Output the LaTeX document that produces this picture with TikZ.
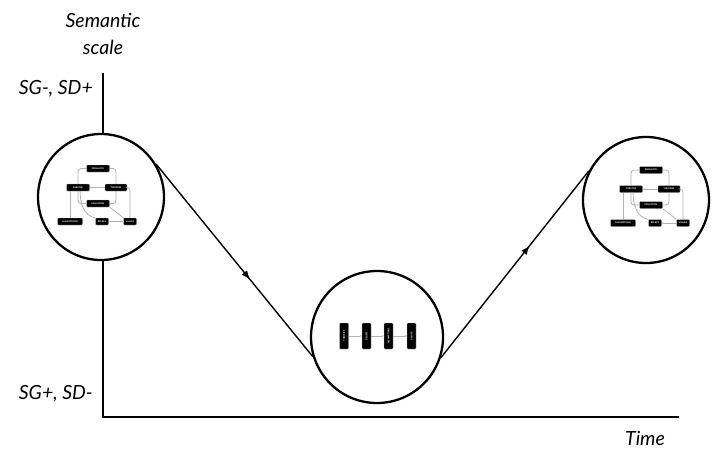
\documentclass[tikz,border=0pt]{standalone}
\usepackage{fontspec}
\setmainfont{Lato}
\usetikzlibrary{arrows.meta,decorations.markings}
\tikzset{
  axisline/.style={line width=1.7pt},
  bigcirc/.style={circle, draw, line width=2.3pt, fill=white, inner sep=0pt},
  flow/.style={line width=1.4pt, postaction={decorate},
    decoration={markings, mark=at position 0.6 with {\arrow{Latex[length=9pt,width=7pt]}}}},
  lbl/.style={font=\itshape\fontsize{19.5}{22}\selectfont, inner sep=0pt},
  minibox/.style={draw=gray!50, fill=black, rounded corners=0.8pt, inner sep=0pt,
    minimum height=7pt, text=white, font=\bfseries\fontsize{2.2}{2.6}\selectfont, line width=0.3pt},
  minilink/.style={draw=gray!60, line width=0.8pt, rounded corners=3pt},
  miniarrow/.style={minilink, -{Latex[length=1.8pt,width=1.6pt]}},
  vbox/.style={minibox, rotate=90, minimum width=26pt, minimum height=9pt}
}
\newcommand\minidiagram{%
  \node[minibox, minimum width=23pt] (ped) at (0,-26.5) {PEDAGOGY};
  \node[minibox, minimum width=23pt] (pur) at (-20,-7.5) {PURPOSE};
  \node[minibox, minimum width=22pt] (the) at (18,-7.5) {THEORIES};
  \node[minibox, minimum width=23pt] (edu) at (0,8.5) {EDUCATION};
  \node[minibox, minimum width=25pt] (ass) at (-28,26.5) {ASSUMPTIONS};
  \node[minibox, minimum width=13pt] (bel) at (4,26.5) {BELIEFS};
  \node[minibox, minimum width=13pt] (val) at (32,26.5) {VALUES};
  \draw[minilink] (ped.west) -| (pur.north);
  \draw[minilink] (ped.east) -| (the.north);
  \draw[miniarrow] (the.west) -- (pur.east);
  \draw[minilink] (pur.south) |- (edu.west);
  \draw[minilink] (the.south) |- (edu.east);
  \draw[minilink] (the.east) -| (val.north);
  \draw[minilink] (pur.south -| ass.north) -- (ass.north);
  \draw[minilink] (pur.-60) to[out=-90,in=170] (bel.north west);
  \draw[minilink] (edu.south east) -- (val.north west);
  \draw[miniarrow] (val.west) -- (bel.east);
}
\begin{document}
\begin{tikzpicture}[x=1pt,y=-1pt]
\useasboundingbox (0,0) rectangle (712,451);
% axes
\coordinate (ytop) at (103,73);
\coordinate (origin) at (103,417);
\coordinate (xend) at (679,417);
\draw[axisline] (ytop) -- (origin) -- (xend);
% labels
\node[lbl, anchor=base] (sem) at (103,27) {Semantic};
\node[lbl, anchor=base] (scl) at (103,54) {scale};
\node[lbl, anchor=base east] (hi) at (93,94) {SG-, SD+};
\node[lbl, anchor=base east] (lo) at (93,399) {SG+, SD-};
\node[lbl, anchor=base] (time) at (645,445) {Time};
% circles (coordinates only first, for connectors)
\path (101,197) node[bigcirc, minimum size=126pt, draw=none, fill=none] (lc0) {};
\path (377,337) node[bigcirc, minimum size=132pt, draw=none, fill=none] (mc0) {};
\path (646,200) node[bigcirc, minimum size=126pt, draw=none, fill=none] (rc0) {};
\draw[flow] (lc0.31) -- (mc0.197);
\draw[flow] (mc0.-18) -- (rc0.153);
% visible circles
\node[bigcirc, minimum size=126pt] (lc) at (101,197) {};
\node[bigcirc, minimum size=132pt] (mc) at (377,337) {};
\node[bigcirc, minimum size=126pt] (rc) at (646,200) {};
% mini diagrams
\begin{scope}[shift={(98,195)}, name prefix=L-]
  \minidiagram
\end{scope}
\begin{scope}[shift={(651,196.5)}, name prefix=R-]
  \minidiagram
\end{scope}
% middle row of boxes
\node[vbox] (m1) at (344,336) {THEORIES};
\node[vbox] (m2) at (366.5,336) {BELIEFS};
\node[vbox] (m3) at (388.5,336) {ASSUMPTIONS};
\node[vbox] (m4) at (411.5,336) {VALUES};
\draw[miniarrow] (m1) -- (m2);
\draw[miniarrow] (m2) -- (m3);
\draw[miniarrow] (m3) -- (m4);
\end{tikzpicture}
\end{document}
